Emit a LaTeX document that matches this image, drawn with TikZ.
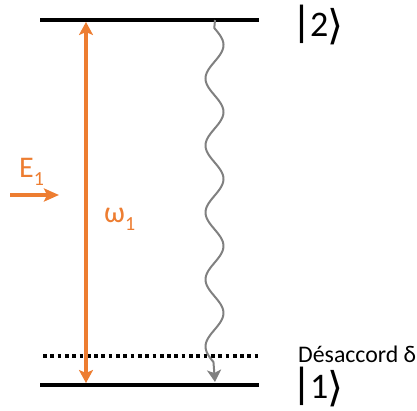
\documentclass[tikz,border=0pt]{standalone}
\usepackage{fontspec}
\setmainfont{Carlito}
\newfontfamily\djv{DejaVu Sans}
\usetikzlibrary{arrows.meta}
\definecolor{orng}{HTML}{ED7D31}
\definecolor{wgrey}{HTML}{808080}
\tikzset{
  level/.style={line width=3.7pt, black},
  dotlevel/.style={line width=3.5pt, black, dash pattern=on 3.7pt off 3.6pt},
  pump/.style={line width=3.2pt, orng, {Stealth[length=13pt,width=14pt,inset=3pt]}-{Stealth[length=13pt,width=14pt,inset=3pt]}},
  field/.style={line width=3.2pt, orng, -{Stealth[length=15pt,width=13pt,inset=3pt]}},
  decay/.style={line width=2pt, wgrey, -{Stealth[length=12pt,width=14pt,inset=3pt]}},
  ket/.style={inner sep=0pt, anchor=base west, font=\fontsize{36}{40}\selectfont},
  lbl/.style={inner sep=0pt, anchor=base west, text=orng, font=\fontsize{30}{36}\selectfont},
}
\newcommand{\myket}[1]{\raisebox{1.5pt}{\djv\fontsize{38.5}{40}\selectfont |}\kern2pt#1\kern-1pt\raisebox{-3pt}{\djv\fontsize{41}{40}\selectfont ⟩}}
\begin{document}
\begin{tikzpicture}[x=1pt,y=-1pt]
\useasboundingbox (0,0) rectangle (417,410);
% levels
\coordinate (l2a) at (40,20);
\coordinate (l2b) at (259,20);
\coordinate (l1a) at (40,385);
\coordinate (l1b) at (259,385);
\coordinate (dla) at (43,356);
\coordinate (dlb) at (259,356);
\draw[level] (l2a) -- (l2b);
\draw[level] (l1a) -- (l1b);
\draw[dotlevel] (dla) -- (dlb);
% pump arrow
\coordinate (pt) at (86,22);
\coordinate (pb) at (86,383);
\draw[pump] (pt) -- (pb);
% field arrow
\coordinate (fa) at (10,195);
\coordinate (fb) at (59,195);
\draw[field] (fa) -- (fb);
% decay wave
\coordinate (ws) at (215,20);
\coordinate (we) at (215,382);
\draw[decay] (ws) -- plot[domain=28:362, samples=140, variable=\t] ({214.5+9*sin(5.37313*(\t-28.25))}, \t) -- (we);
% labels
\node[ket] (k2) at (295,36) {\myket{2}};
\node[ket] (k1) at (295,398) {\myket{1}};
\node[inner sep=0pt, anchor=base west, font=\fontsize{23.8}{28}\selectfont] (det) at (298,362) {Désaccord δ};
\node[lbl] (e1) at (19,177) {E\raisebox{-8pt}{\fontsize{20}{24}\selectfont 1}};
\node[lbl] (w1) at (104,222) {ω\raisebox{-8pt}{\fontsize{20}{24}\selectfont 1}};
\end{tikzpicture}
\end{document}
